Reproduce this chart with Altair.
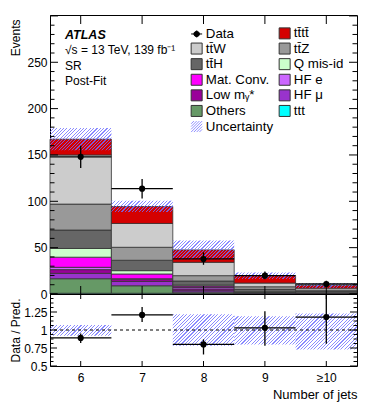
import altair as alt
import pandas as pd

# ---------------- data ----------------
bin_centers = [6, 7, 8, 9, 10]
bin_lo = [5.5, 6.5, 7.5, 8.5, 9.5]
bin_hi = [6.5, 7.5, 8.5, 9.5, 10.5]

# stacked backgrounds, bottom -> top
ttt      = [0.8, 0.8, 0.5, 0.3, 0.2]
others   = [15.7, 8.1, 1.5, 0.6, 0.3]
hf_mu    = [5.8, 4.7, 1.5, 0.4, 0.2]
low_mg   = [4.0, 2.4, 2.0, 0.3, 0.1]
hf_e     = [2.5, 0.5, 1.5, 0.2, 0.1]
mat_conv = [10.9, 5.1, 1.5, 0.2, 0.1]
q_misid  = [9.4, 3.6, 1.1, 0.3, 0.2]
tth      = [19.9, 11.2, 4.4, 2.7, 1.5]
ttz      = [28.0, 14.0, 5.8, 2.8, 1.4]
ttw      = [53.0, 25.7, 14.4, 4.0, 2.2]
tttt     = [17.0, 18.3, 13.4, 8.0, 3.0]

data_y  = [148.0, 113.6, 37.8, 19.8, 10.8]
data_lo = [136.0, 103.0, 31.5, 15.8, 7.5]
data_hi = [160.0, 124.0, 45.0, 24.3, 14.2]

unc_lo = [155.0, 88.5, 37.6, 16.3, 6.8]
unc_hi = [179.0, 100.5, 57.8, 23.3, 11.8]

ratio_y  = [0.89, 1.21, 0.80, 1.03, 1.18]
ratio_lo = [0.82, 1.11, 0.66, 0.78, 0.81]
ratio_hi = [0.95, 1.32, 0.87, 1.26, 1.60]
rband_lo = [0.92, 1.00, 0.78, 0.80, 0.73]
rband_hi = [1.07, 1.00, 1.22, 1.19, 1.23]

N_TTTT = "tt\u0304tt\u0304"
N_TTW = "tt\u0304W"
N_TTZ = "tt\u0304Z"
N_TTH = "tt\u0304H"
N_LOW = "Low m\u1d67*"

stack_names = ["ttt", "Others", "HF \u03bc", N_LOW, "HF e", "Mat. Conv.",
               "Q mis-id", N_TTH, N_TTZ, N_TTW, N_TTTT]
stack_values = [ttt, others, hf_mu, low_mg, hf_e, mat_conv, q_misid, tth, ttz, ttw, tttt]

# legend entries, column by column (left column first)
legend_names = ["Data", N_TTW, N_TTH, "Mat. Conv.", N_LOW, "Others", "Uncertainty",
                N_TTTT, N_TTZ, "Q mis-id", "HF e", "HF \u03bc", "ttt"]
legend_fills = ["black", "#cccccc", "#666666", "#ff00ff", "#990099", "#669966",
                "transparent",
                "#d40000", "#999999", "#ccffcc", "#cc66ff", "#9933cc", "#00ffff"]
legend_strokes = (["black"] + ["#333333"] * 5 + ["#9090ff"] + ["#333333"] * 6)
DATA_PATH = ("M-1,0L1,0M0,-0.6L0,0.6"
             "M-0.5,0A0.5,0.5 0 1,0 0.5,0A0.5,0.5 0 1,0 -0.5,0Z")
HATCH_PATH = ("M-1,1L1,-1M-0.5,1L1,-0.5M0,1L1,0M0.5,1L1,0.5"
              "M-1,0.5L0.5,-1M-1,0L0,-1M-1,-0.5L-0.5,-1")
legend_shapes = ([DATA_PATH] + ["square"] * 5 + [HATCH_PATH] + ["square"] * 6)

# ---------------- layout constants ----------------
W, HU, HL = 307, 279, 72
YMAX = 301
RMIN, RMAX = 0.5, 1.5
FONT = "Liberation Sans"

xscale = alt.Scale(domain=[5.5, 10.5], nice=False, zero=False)
yscale_u = alt.Scale(domain=[0, YMAX], nice=False, zero=False)
yscale_r = alt.Scale(domain=[RMIN, RMAX], nice=False, zero=False)

yax_u = alt.Axis(title="Events", values=[0, 50, 100, 150, 200, 250], format="d",
                 grid=False, ticks=False, domain=False, labelFontSize=12,
                 labelPadding=3, labelColor="black", titleFontSize=12,
                 titleFontWeight="normal", titleColor="black", titleAnchor="end",
                 titleX=-35, titleY=4, titleBaseline="middle")
yax_r = alt.Axis(title="Data / Pred.", values=[0.5, 0.75, 1, 1.25],
                 labelExpr="datum.value == 1 ? '1' : datum.value == 0.5 ? '0.5' : format(datum.value, '.2f')",
                 labelOverlap=False,
                 grid=False, ticks=False, domain=False, labelFontSize=12,
                 labelPadding=3, labelColor="black", titleFontSize=12,
                 titleFontWeight="normal", titleColor="black", titleX=-35,
                 titleBaseline="middle")
xax_r = alt.Axis(title="Number of jets", values=bin_centers,
                 labelExpr="datum.value == 10 ? '\u226510' : datum.label",
                 grid=False, ticks=False, domain=False, labelFontSize=12,
                 labelPadding=6, labelColor="black", labelFlush=False,
                 titleFontSize=13, titleFontWeight="normal", titleColor="black",
                 titleAnchor="end", titleAlign="right", titleX=W, titleY=32,
                 titleBaseline="alphabetic")


def hatch(w, h, period=3.4, frac=0.33):
    col = "rgba(110,110,255,0.8)"
    clear = "rgba(110,110,255,0)"
    n = max(1, int(round((w + h) / period)))
    stops = []
    for i in range(n):
        a, b, c = i / n, (i + frac) / n, (i + 1) / n
        stops += [alt.GradientStop(offset=a, color=col),
                  alt.GradientStop(offset=b, color=col),
                  alt.GradientStop(offset=b, color=clear),
                  alt.GradientStop(offset=c, color=clear)]
    s = (w + h) / (w * w + h * h)
    return alt.LinearGradient(gradient="linear", stops=stops, x1=0, y1=0,
                              x2=w * s, y2=h * s)


# ---------------- tables ----------------
rows = []
for i in range(5):
    cum = 0.0
    for name, vals in zip(stack_names, stack_values):
        rows.append({"name": name, "xl": bin_lo[i], "xh": bin_hi[i],
                     "y0": cum, "y1": cum + vals[i]})
        cum += vals[i]
stack_df = pd.DataFrame(rows)

pts = pd.DataFrame({"xc": bin_centers, "xl": bin_lo, "xh": bin_hi,
                    "y": data_y, "lo": data_lo, "hi": data_hi,
                    "r": ratio_y, "rlo": ratio_lo, "rhi": ratio_hi})

fill_enc = alt.Fill("name:N", scale=alt.Scale(domain=legend_names, range=legend_fills),
                    legend=alt.Legend(title=None))

def X(f):
    return alt.X(f, scale=xscale, axis=None)

def Yu(f):
    return alt.Y(f, scale=yscale_u, axis=yax_u)

def Xr(f):
    return alt.X(f, scale=xscale, axis=xax_r)

def Yr(f):
    return alt.Y(f, scale=yscale_r, axis=yax_r)

# ---------------- upper panel ----------------
bars = alt.Chart(stack_df).mark_rect(stroke="#333333", strokeWidth=0.8).encode(
    x=X("xl:Q"), x2="xh:Q", y=Yu("y0:Q"), y2="y1:Q", fill=fill_enc)

upper_layers = [bars]
for i in range(5):
    h = (unc_hi[i] - unc_lo[i]) * HU / YMAX
    w = W / 5
    d = pd.DataFrame({"xl": [bin_lo[i]], "xh": [bin_hi[i]],
                      "lo": [unc_lo[i]], "hi": [unc_hi[i]]})
    upper_layers.append(alt.Chart(d).mark_rect(fill=hatch(w, h), strokeWidth=0).encode(
        x=X("xl:Q"), x2="xh:Q", y=Yu("lo:Q"), y2="hi:Q"))

upper_layers += [
    alt.Chart(pts).mark_rule(color="black", strokeWidth=1.3).encode(
        x=X("xc:Q"), y=Yu("lo:Q"), y2="hi:Q"),
    alt.Chart(pts).mark_rule(color="black", strokeWidth=1.3).encode(
        x=X("xl:Q"), x2="xh:Q", y=Yu("y:Q")),
    alt.Chart(pts).mark_point(filled=True, color="black", size=38, opacity=1).encode(
        x=X("xc:Q"), y=Yu("y:Q")),
]

# inner ticks (upper)
maj_u = pd.DataFrame({"v": [0, 50, 100, 150, 200, 250, 300]})
min_u = pd.DataFrame({"v": [v for v in range(0, 301, 10) if v % 50 != 0]})
cen = pd.DataFrame({"xc": bin_centers})
upper_layers += [
    alt.Chart(maj_u).mark_rule(color="black").encode(y=Yu("v:Q"), x=alt.value(0), x2=alt.value(8)),
    alt.Chart(min_u).mark_rule(color="black").encode(y=Yu("v:Q"), x=alt.value(0), x2=alt.value(4.5)),
    alt.Chart(maj_u).mark_rule(color="black").encode(y=Yu("v:Q"), x=alt.value(W), x2=alt.value(W - 8)),
    alt.Chart(min_u).mark_rule(color="black").encode(y=Yu("v:Q"), x=alt.value(W), x2=alt.value(W - 4.5)),
    alt.Chart(cen).mark_rule(color="black").encode(x=X("xc:Q"), y=alt.value(0), y2=alt.value(9)),
    alt.Chart(cen).mark_rule(color="black").encode(x=X("xc:Q"), y=alt.value(HU), y2=alt.value(HU - 8)),
]

# ATLAS label
upper_layers += [
    alt.Chart(pd.DataFrame({"t": ["ATLAS"]})).mark_text(
        align="left", baseline="middle", fontSize=12.5, fontWeight="bold",
        fontStyle="italic", font=FONT, color="black").encode(
        text="t:N", x=alt.value(15), y=alt.value(19.5)),
    alt.Chart(pd.DataFrame({"t": ["\u221as = 13 TeV, 139 fb\u207b\u00b9"]})).mark_text(
        align="left", baseline="middle", fontSize=12, font=FONT, color="black").encode(
        text="t:N", x=alt.value(15), y=alt.value(35)),
    alt.Chart(pd.DataFrame({"t": ["SR"]})).mark_text(
        align="left", baseline="middle", fontSize=12, font=FONT, color="black").encode(
        text="t:N", x=alt.value(15), y=alt.value(51)),
    alt.Chart(pd.DataFrame({"t": ["Post-Fit"]})).mark_text(
        align="left", baseline="middle", fontSize=12, font=FONT, color="black").encode(
        text="t:N", x=alt.value(15), y=alt.value(66)),
]

# legend carrier
leg_df = pd.DataFrame({"name": legend_names})
upper_layers.append(
    alt.Chart(leg_df).mark_point(filled=True, opacity=0).encode(
        fill=fill_enc,
        stroke=alt.Stroke("name:N", scale=alt.Scale(domain=legend_names, range=legend_strokes),
                          legend=alt.Legend(title=None)),
        shape=alt.Shape("name:N", scale=alt.Scale(domain=legend_names, range=legend_shapes),
                        legend=alt.Legend(title=None)),
    )
)

upper = alt.layer(*upper_layers).properties(width=W, height=HU)

# ---------------- ratio panel ----------------
lower_layers = []
for i in range(5):
    if rband_hi[i] - rband_lo[i] <= 0:
        continue
    h = (rband_hi[i] - rband_lo[i]) * HL / (RMAX - RMIN)
    w = W / 5
    d = pd.DataFrame({"xl": [bin_lo[i]], "xh": [bin_hi[i]],
                      "lo": [rband_lo[i]], "hi": [rband_hi[i]]})
    lower_layers.append(alt.Chart(d).mark_rect(fill=hatch(w, h), strokeWidth=0).encode(
        x=Xr("xl:Q"), x2="xh:Q", y=Yr("lo:Q"), y2="hi:Q"))

lower_layers += [
    alt.Chart(pd.DataFrame({"one": [1.0]})).mark_rule(
        color="black", strokeDash=[3, 3], strokeWidth=1).encode(y=Yr("one:Q")),
    alt.Chart(pts).mark_rule(color="black", strokeWidth=1.3, clip=True).encode(
        x=Xr("xc:Q"), y=Yr("rlo:Q"), y2="rhi:Q"),
    alt.Chart(pts).mark_rule(color="black", strokeWidth=1.3).encode(
        x=Xr("xl:Q"), x2="xh:Q", y=Yr("r:Q")),
    alt.Chart(pts).mark_point(filled=True, color="black", size=38, opacity=1).encode(
        x=Xr("xc:Q"), y=Yr("r:Q")),
]

maj_r = pd.DataFrame({"v": [0.5, 0.75, 1.0, 1.25, 1.5]})
min_r = pd.DataFrame({"v": [0.5 + 0.0625 * k for k in range(17) if k % 4 != 0]})
lower_layers += [
    alt.Chart(maj_r).mark_rule(color="black").encode(y=Yr("v:Q"), x=alt.value(0), x2=alt.value(7)),
    alt.Chart(min_r).mark_rule(color="black").encode(y=Yr("v:Q"), x=alt.value(0), x2=alt.value(3.5)),
    alt.Chart(maj_r).mark_rule(color="black").encode(y=Yr("v:Q"), x=alt.value(W), x2=alt.value(W - 7)),
    alt.Chart(min_r).mark_rule(color="black").encode(y=Yr("v:Q"), x=alt.value(W), x2=alt.value(W - 3.5)),
    alt.Chart(cen).mark_rule(color="black").encode(x=Xr("xc:Q"), y=alt.value(0), y2=alt.value(5)),
    alt.Chart(cen).mark_rule(color="black").encode(x=Xr("xc:Q"), y=alt.value(HL), y2=alt.value(HL - 5)),
]

lower = alt.layer(*lower_layers).properties(width=W, height=HL)

chart = alt.vconcat(upper, lower, spacing=0, bounds="flush").properties(
    padding={"left": 0, "top": 6, "right": 5, "bottom": 0}
).configure(font=FONT).configure_view(
    stroke="black", strokeWidth=1
).configure_legend(
    orient="none", legendX=140, legendY=11.3, columns=2, symbolSize=121,
    symbolStrokeWidth=1, symbolOpacity=1, labelFontSize=13.3, labelFont=FONT,
    labelColor="black", labelOffset=2.5, rowPadding=-0.4, columnPadding=3,
    padding=0, labelLimit=200
)

chart.save("out.html", embed_options={"renderer": "svg", "actions": False})
